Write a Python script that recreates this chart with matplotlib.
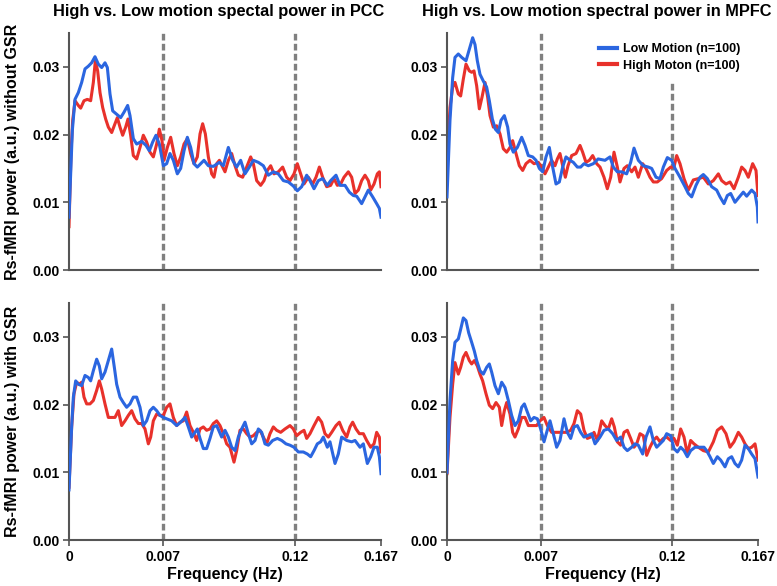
import numpy as np
import matplotlib
matplotlib.use("Agg")
import matplotlib.pyplot as plt
from matplotlib.lines import Line2D

plt.rcParams['font.family'] = ['Liberation Sans', 'DejaVu Sans']
plt.rcParams['font.weight'] = 'bold'

# x positions are in percent of the plotted frequency range (0 -> 0.167 Hz)
# ---- PCC without GSR ----
pcc_nogsr_low_x = [0, 1.07, 1.92, 2.99, 4.06, 5.13, 6.2, 7.26, 8.33, 9.4, 10.47, 11.54, 12.29, 13.14, 14.0,
                   15.28, 16.56, 17.63, 18.8, 19.55, 20.62, 21.69, 23.29, 24.68, 25.75, 26.82, 27.88, 28.95,
                   30.24, 31.3, 32.37, 33.44, 34.72, 35.79, 36.86, 37.93, 39.0, 40.06, 41.13, 42.2, 43.27,
                   44.66, 46.26, 48.2, 49.47, 51.07, 52.46, 53.74, 55.02, 56.41, 57.8, 59.08, 60.68, 62.29,
                   63.89, 65.49, 67.09, 68.7, 70.3, 71.9, 73.18, 74.57, 76.18, 77.24, 78.53, 79.91, 81.3,
                   82.8, 83.87, 85.58, 86.86, 88.46, 89.85, 91.13, 92.2, 93.8, 94.87, 95.94, 97.33, 98.61,
                   99.47, 100]
pcc_nogsr_low_y = [0.0078, 0.0206, 0.0252, 0.0262, 0.0277, 0.0297, 0.0301, 0.0306, 0.0315, 0.0304, 0.0299,
                   0.0306, 0.0299, 0.026, 0.0235, 0.023, 0.0225, 0.0233, 0.0243, 0.0228, 0.0194, 0.0186,
                   0.019, 0.0184, 0.0176, 0.0189, 0.0199, 0.0186, 0.0154, 0.0157, 0.0172, 0.0162, 0.0142,
                   0.015, 0.0176, 0.0196, 0.0181, 0.0157, 0.0152, 0.0157, 0.0162, 0.0154, 0.0153, 0.0159,
                   0.0154, 0.0181, 0.0162, 0.0152, 0.0162, 0.0142, 0.0152, 0.0162, 0.0159, 0.0154, 0.014,
                   0.0145, 0.0142, 0.0132, 0.013, 0.0124, 0.0117, 0.0123, 0.014, 0.0132, 0.012, 0.0132,
                   0.0135, 0.0125, 0.0132, 0.014, 0.0125, 0.0125, 0.0115, 0.011, 0.0109, 0.0098, 0.0108,
                   0.0118, 0.0108, 0.0098, 0.0091, 0.0078]
pcc_nogsr_high_x = [0, 0.64, 1.18, 1.92, 2.99, 3.74, 4.81, 5.88, 6.94, 7.8, 8.44, 9.19, 9.94, 10.79, 11.75,
                    12.61, 13.68, 14.74, 15.49, 16.35, 17.2, 18.16, 18.91, 19.76, 20.62, 21.69, 22.76, 23.82,
                    24.89, 25.96, 27.03, 28.1, 28.95, 29.81, 30.45, 31.52, 32.59, 33.65, 34.72, 35.79, 36.86,
                    37.93, 39.0, 40.06, 41.13, 41.99, 42.84, 43.7, 44.66, 45.73, 46.47, 47.33, 48.2, 49.25,
                    50.0, 51.07, 52.14, 53.21, 54.27, 55.66, 56.94, 58.23, 59.08, 60.15, 61.43, 62.5, 63.57,
                    64.64, 65.71, 67.1, 68.48, 69.76, 70.83, 72.12, 73.18, 74.25, 75.32, 76.71, 78.1, 79.17,
                    80.24, 81.3, 82.59, 83.87, 84.94, 86.0, 87.07, 88.14, 89.53, 90.6, 91.67, 92.74, 93.8,
                    94.87, 95.94, 96.69, 97.76, 98.82, 99.47, 100]
pcc_nogsr_high_y = [0.0064, 0.0172, 0.0221, 0.025, 0.0243, 0.0239, 0.025, 0.0252, 0.025, 0.0277, 0.0309,
                    0.0294, 0.0262, 0.024, 0.0223, 0.0211, 0.0203, 0.0216, 0.0225, 0.0211, 0.0199, 0.0211,
                    0.0223, 0.0199, 0.0169, 0.0164, 0.0181, 0.0199, 0.0189, 0.0174, 0.0167, 0.0186, 0.0208,
                    0.0191, 0.0162, 0.0181, 0.0196, 0.0172, 0.0154, 0.0167, 0.0186, 0.0194, 0.0172, 0.0157,
                    0.0167, 0.0201, 0.0216, 0.0201, 0.0167, 0.0142, 0.0137, 0.0157, 0.0162, 0.0152, 0.0145,
                    0.0162, 0.0172, 0.0154, 0.014, 0.0137, 0.0152, 0.0167, 0.0157, 0.0132, 0.0125, 0.0132,
                    0.0147, 0.0154, 0.0142, 0.0145, 0.0152, 0.0137, 0.0132, 0.0142, 0.0157, 0.0142, 0.0127,
                    0.0137, 0.0127, 0.0137, 0.0152, 0.0137, 0.0123, 0.0125, 0.0135, 0.0125, 0.0127, 0.0137,
                    0.0145, 0.0137, 0.0113, 0.0118, 0.0132, 0.014, 0.0132, 0.0118, 0.0127, 0.0142, 0.0145,
                    0.0123]

# ---- MPFC without GSR ----
mpfc_nogsr_low_x = [0, 0.96, 1.82, 2.57, 3.64, 4.72, 6.11, 7.18, 8.25, 9.0, 9.75, 10.61, 11.68, 12.75, 13.61,
                    14.58, 15.54, 16.51, 17.36, 18.44, 19.51, 20.26, 21.33, 22.62, 24.01, 25.08, 26.15, 27.55,
                    28.62, 29.69, 30.76, 31.83, 32.9, 33.98, 35.05, 36.12, 37.19, 38.26, 39.55, 40.62, 41.91,
                    42.98, 44.05, 45.44, 47.05, 48.6, 50.8, 52.41, 53.48, 54.77, 56.16, 57.77, 59.06, 60.13,
                    61.52, 63.13, 64.74, 65.81, 67.2, 68.49, 69.56, 70.85, 72.24, 73.31, 74.92, 76.53, 77.6,
                    78.67, 80.06, 81.35, 82.42, 83.71, 85.1, 86.71, 87.78, 89.07, 90.14, 91.21, 92.6, 94.0,
                    95.28, 96.36, 97.96, 99.04, 99.79, 100]
mpfc_nogsr_low_y = [0.0108, 0.0221, 0.0284, 0.0314, 0.0319, 0.0314, 0.0309, 0.0326, 0.0343, 0.0333, 0.0309,
                    0.0289, 0.0279, 0.027, 0.025, 0.0223, 0.0208, 0.0203, 0.0221, 0.0228, 0.0211, 0.0186,
                    0.0174, 0.0181, 0.0196, 0.0184, 0.0169, 0.0167, 0.0162, 0.015, 0.0145, 0.0167, 0.0181,
                    0.0152, 0.0127, 0.013, 0.0152, 0.0167, 0.0162, 0.0159, 0.0152, 0.0152, 0.0157, 0.0154,
                    0.0157, 0.0164, 0.0162, 0.0167, 0.0152, 0.0145, 0.0145, 0.0142, 0.0159, 0.018, 0.0162,
                    0.0154, 0.0152, 0.015, 0.0137, 0.0135, 0.0152, 0.0166, 0.0162, 0.015, 0.0137, 0.0123,
                    0.0113, 0.0108, 0.0125, 0.0137, 0.0141, 0.0135, 0.0123, 0.0118, 0.0108, 0.0098, 0.011,
                    0.0113, 0.01, 0.0108, 0.0115, 0.0109, 0.0118, 0.0113, 0.0093, 0.0071]
mpfc_nogsr_high_x = [0, 0.96, 1.82, 2.57, 3.64, 4.39, 5.25, 6.11, 7.18, 7.93, 8.68, 9.54, 10.4, 11.25, 12.22,
                     13.08, 13.83, 14.9, 15.97, 17.04, 18.11, 19.19, 20.26, 21.11, 22.19, 23.26, 24.33, 25.4,
                     26.69, 27.97, 29.37, 30.44, 31.51, 32.58, 33.65, 34.73, 35.48, 36.33, 37.19, 38.05, 38.91,
                     40.09, 41.48, 42.77, 43.62, 44.69, 45.77, 46.84, 48.12, 49.2, 50.48, 51.55, 52.63, 53.7,
                     54.77, 55.63, 56.91, 57.98, 59.38, 60.45, 61.52, 62.92, 63.99, 65.27, 66.35, 67.63, 69.02,
                     70.63, 71.92, 72.99, 73.85, 74.92, 76.21, 77.6, 79.21, 80.81, 82.42, 84.03, 85.64, 87.25,
                     88.32, 89.71, 90.99, 92.28, 93.68, 94.75, 95.82, 96.89, 98.28, 99.36, 100]
mpfc_nogsr_high_y = [0.0157, 0.024, 0.027, 0.0277, 0.026, 0.0257, 0.0282, 0.0304, 0.0294, 0.0292, 0.0294,
                     0.0272, 0.0238, 0.0255, 0.0277, 0.0255, 0.0228, 0.0211, 0.0213, 0.0201, 0.0179, 0.0174,
                     0.0181, 0.0191, 0.0172, 0.0154, 0.0147, 0.0157, 0.0162, 0.0157, 0.0159, 0.0152, 0.0142,
                     0.0152, 0.0162, 0.0154, 0.0164, 0.0172, 0.0154, 0.0137, 0.0154, 0.0169, 0.0172, 0.0184,
                     0.0174, 0.0159, 0.0162, 0.0169, 0.0157, 0.0152, 0.0137, 0.012, 0.0137, 0.0174, 0.0152,
                     0.013, 0.015, 0.0154, 0.0145, 0.0152, 0.0137, 0.0157, 0.015, 0.0137, 0.013, 0.013, 0.0135,
                     0.0147, 0.0152, 0.0152, 0.0169, 0.0157, 0.0135, 0.0118, 0.0133, 0.0135, 0.0137, 0.0127,
                     0.0132, 0.0142, 0.0132, 0.0127, 0.013, 0.012, 0.0137, 0.0152, 0.0147, 0.0137, 0.0157,
                     0.0147, 0.011]

# ---- PCC with GSR ----
pcc_gsr_low_x = [0, 0.85, 1.39, 2.14, 2.99, 4.06, 5.13, 6.2, 6.94, 7.8, 8.87, 9.72, 10.47, 11.54, 12.61,
                 13.68, 14.53, 15.28, 16.35, 17.41, 18.48, 19.55, 20.62, 21.69, 22.76, 23.82, 24.89, 25.96,
                 27.03, 28.1, 29.17, 30.24, 31.3, 32.91, 34.51, 35.79, 37.18, 38.25, 39.32, 40.38, 41.13,
                 41.99, 43.06, 44.12, 45.19, 46.26, 47.33, 48.93, 50.0, 51.07, 52.14, 53.21, 54.27, 55.34,
                 56.41, 57.48, 58.55, 59.62, 60.68, 61.75, 62.82, 63.89, 65.28, 66.77, 68.16, 69.55, 70.83,
                 72.12, 73.5, 75.11, 76.39, 77.46, 78.53, 79.59, 80.66, 81.52, 82.8, 83.65, 85.26, 86.32,
                 87.39, 89.0, 90.6, 91.67, 93.27, 94.34, 95.62, 96.69, 97.76, 98.82, 99.47, 100]
pcc_gsr_low_y = [0.0074, 0.0167, 0.0211, 0.0235, 0.023, 0.0228, 0.0243, 0.024, 0.0235, 0.025, 0.0267,
                 0.0257, 0.0238, 0.0248, 0.0265, 0.0282, 0.0255, 0.023, 0.0211, 0.0203, 0.0196, 0.0201,
                 0.0211, 0.0211, 0.0196, 0.0169, 0.0176, 0.0191, 0.0196, 0.0191, 0.0184, 0.0181, 0.0179,
                 0.0176, 0.0169, 0.0174, 0.0181, 0.0167, 0.0152, 0.0159, 0.0164, 0.015, 0.0135, 0.0135,
                 0.015, 0.0167, 0.0169, 0.0152, 0.0162, 0.0152, 0.0137, 0.0132, 0.0152, 0.0164, 0.0174,
                 0.0157, 0.0142, 0.0147, 0.0164, 0.0159, 0.0142, 0.014, 0.0147, 0.015, 0.0147, 0.0142,
                 0.014, 0.0137, 0.013, 0.013, 0.0127, 0.0123, 0.0132, 0.0142, 0.0145, 0.0152, 0.0137,
                 0.0145, 0.0113, 0.0127, 0.0152, 0.0147, 0.0145, 0.0147, 0.0137, 0.0142, 0.0113, 0.0123,
                 0.0137, 0.0137, 0.0123, 0.0098]
pcc_gsr_high_x = [0, 0.85, 1.6, 2.46, 3.31, 4.06, 4.81, 5.66, 6.73, 7.8, 8.87, 9.72, 10.47, 11.54, 12.61,
                  13.68, 14.74, 15.81, 16.88, 17.95, 19.02, 20.09, 21.15, 22.22, 23.29, 24.36, 25.43, 26.18,
                  27.03, 28.1, 29.17, 30.24, 31.3, 32.37, 33.44, 34.51, 35.58, 36.65, 37.71, 38.78, 39.85,
                  40.92, 41.99, 43.06, 44.12, 45.19, 46.26, 47.33, 48.4, 49.47, 50.53, 51.6, 52.88, 53.74,
                  54.81, 55.88, 56.94, 58.01, 59.08, 60.15, 61.22, 62.29, 63.35, 64.42, 65.49, 66.56, 67.84,
                  69.23, 70.83, 71.9, 72.97, 74.25, 75.32, 76.18, 77.24, 78.53, 79.91, 80.98, 82.05, 83.12,
                  84.19, 85.58, 86.65, 87.71, 89.0, 90.06, 90.92, 91.99, 93.06, 94.34, 95.41, 96.69, 97.76,
                  98.61, 99.47, 100]
pcc_gsr_high_y = [0.0078, 0.0167, 0.0216, 0.0233, 0.023, 0.0233, 0.0211, 0.0201, 0.0201, 0.0206, 0.0221,
                  0.0235, 0.0223, 0.0201, 0.0181, 0.0181, 0.0181, 0.0191, 0.0169, 0.0176, 0.0184, 0.0191,
                  0.0179, 0.0172, 0.0172, 0.0164, 0.0142, 0.0152, 0.0176, 0.0186, 0.0184, 0.0184, 0.0196,
                  0.0201, 0.0181, 0.0169, 0.0174, 0.0176, 0.0189, 0.0169, 0.0159, 0.0147, 0.0164, 0.0167,
                  0.0162, 0.0164, 0.0172, 0.0176, 0.0169, 0.0157, 0.0142, 0.0137, 0.0115, 0.0132, 0.0162,
                  0.0164, 0.0157, 0.0152, 0.0154, 0.0159, 0.0162, 0.0152, 0.0142, 0.0157, 0.0167, 0.0162,
                  0.0159, 0.0164, 0.0169, 0.0164, 0.0154, 0.0159, 0.0162, 0.015, 0.0157, 0.0169, 0.0181,
                  0.0174, 0.0157, 0.0152, 0.0159, 0.0169, 0.0174, 0.0162, 0.0152, 0.0167, 0.0174, 0.0164,
                  0.0157, 0.0157, 0.0147, 0.0137, 0.0142, 0.0159, 0.0152, 0.013]

# ---- MPFC with GSR ----
mpfc_gsr_low_x = [0, 0.96, 1.82, 2.57, 3.64, 4.39, 5.25, 6.11, 6.97, 7.93, 8.79, 9.54, 10.61, 11.68, 12.75,
                  13.61, 14.36, 15.43, 16.51, 17.58, 18.65, 19.72, 20.79, 21.86, 22.94, 24.01, 24.87, 25.83,
                  26.9, 27.97, 29.05, 30.12, 31.19, 32.05, 33.12, 34.19, 35.26, 36.33, 37.62, 38.69, 39.76,
                  40.84, 41.91, 42.98, 44.05, 45.12, 46.52, 47.59, 49.2, 50.48, 51.87, 53.27, 54.55, 55.84,
                  56.91, 57.98, 59.38, 60.45, 61.52, 62.92, 63.99, 65.27, 66.35, 67.42, 68.49, 69.56, 70.63,
                  71.92, 72.99, 74.06, 75.13, 76.21, 77.28, 78.35, 79.74, 81.35, 82.64, 83.49, 84.57, 85.64,
                  86.92, 88.0, 89.39, 90.46, 91.53, 92.6, 93.68, 94.75, 95.82, 96.89, 97.96, 99.04, 100]
mpfc_gsr_low_y = [0.01, 0.0206, 0.0265, 0.0292, 0.0297, 0.0311, 0.0328, 0.0324, 0.0306, 0.0292, 0.0279,
                  0.0265, 0.025, 0.0245, 0.0255, 0.026, 0.0248, 0.0228, 0.0216, 0.0233, 0.0225, 0.0206,
                  0.0184, 0.0169, 0.0176, 0.0196, 0.0201, 0.0189, 0.0176, 0.0181, 0.0179, 0.0164, 0.0145,
                  0.0159, 0.0176, 0.0157, 0.0137, 0.0147, 0.0179, 0.0159, 0.015, 0.0167, 0.0169, 0.0159,
                  0.0152, 0.0154, 0.0157, 0.0142, 0.0152, 0.0162, 0.0164, 0.0157, 0.0147, 0.0152, 0.0137,
                  0.0132, 0.0137, 0.0142, 0.014, 0.0127, 0.0152, 0.0167, 0.0147, 0.0137, 0.0142, 0.0147,
                  0.0157, 0.0154, 0.0135, 0.013, 0.0137, 0.0132, 0.0123, 0.0132, 0.0137, 0.0137, 0.0137,
                  0.0132, 0.0123, 0.0113, 0.0123, 0.0118, 0.0108, 0.012, 0.0123, 0.0113, 0.0108, 0.0118,
                  0.014, 0.0135, 0.0127, 0.012, 0.0093]
mpfc_gsr_high_x = [0, 0.96, 1.82, 2.57, 3.64, 4.39, 5.25, 6.11, 7.18, 7.93, 8.79, 9.75, 10.61, 11.47, 12.54,
                   13.61, 14.68, 15.76, 16.83, 17.58, 18.44, 19.19, 20.26, 21.11, 21.86, 22.94, 24.01, 25.08,
                   26.15, 27.55, 28.83, 29.9, 31.19, 32.26, 33.65, 35.26, 36.87, 38.48, 39.76, 40.84, 41.91,
                   42.98, 44.05, 45.12, 46.2, 47.27, 48.34, 49.73, 50.8, 51.87, 52.95, 53.8, 54.77, 55.84,
                   56.91, 57.98, 59.06, 60.13, 60.99, 62.06, 63.13, 64.2, 65.27, 66.35, 67.42, 68.49, 69.56,
                   70.63, 71.92, 72.99, 74.06, 75.13, 76.21, 77.28, 78.35, 79.42, 80.81, 82.42, 84.03, 85.64,
                   86.92, 88.32, 89.71, 91.0, 92.28, 93.68, 94.75, 95.82, 96.89, 97.96, 99.04, 100]
mpfc_gsr_high_y = [0.0098, 0.0181, 0.023, 0.0262, 0.0245, 0.0255, 0.027, 0.0277, 0.0265, 0.026, 0.0265,
                   0.0257, 0.0245, 0.0235, 0.0216, 0.0199, 0.0194, 0.0203, 0.0196, 0.0169, 0.0191, 0.0203,
                   0.0186, 0.0159, 0.0152, 0.0164, 0.0181, 0.0181, 0.0169, 0.0169, 0.0169, 0.0176, 0.0181,
                   0.0169, 0.0159, 0.0159, 0.0159, 0.0159, 0.0162, 0.0172, 0.0191, 0.0186, 0.0162, 0.015,
                   0.0152, 0.0159, 0.0147, 0.0176, 0.0169, 0.0164, 0.0179, 0.0167, 0.0145, 0.014, 0.0159,
                   0.0162, 0.015, 0.0137, 0.0142, 0.0157, 0.0154, 0.0125, 0.0137, 0.0147, 0.0152, 0.0145,
                   0.015, 0.0152, 0.0147, 0.015, 0.014, 0.0164, 0.0152, 0.0127, 0.0147, 0.0142, 0.0137,
                   0.0132, 0.013, 0.0145, 0.0162, 0.0167, 0.0157, 0.0137, 0.0145, 0.0159, 0.0152, 0.0142,
                   0.0135, 0.0137, 0.0142, 0.0118]

titles = ["High vs. Low motion spectal power in PCC", "High vs. Low motion spectral power in MPFC"]
row_labels = ["Rs-fMRI power (a.u.) without GSR", "Rs-fMRI power (a.u.) with GSR"]
freq_ticks = [0, 30.2, 72.3, 100]
freq_labels = ["0", "0.007", "0.12", "0.167"]
band_lines = [30.2, 72.3]
y_ticks = [0.0, 0.01, 0.02, 0.03]
legend_labels = ["Low Motion (n=100)", "High Moton (n=100)"]

blue = '#2B66E0'
red = '#E8312B'
axis_col = '#555555'

panels = [
    (pcc_nogsr_low_x, pcc_nogsr_low_y, pcc_nogsr_high_x, pcc_nogsr_high_y),
    (mpfc_nogsr_low_x, mpfc_nogsr_low_y, mpfc_nogsr_high_x, mpfc_nogsr_high_y),
    (pcc_gsr_low_x, pcc_gsr_low_y, pcc_gsr_high_x, pcc_gsr_high_y),
    (mpfc_gsr_low_x, mpfc_gsr_low_y, mpfc_gsr_high_x, mpfc_gsr_high_y),
]

W, H = 777, 586
fig = plt.figure(figsize=(W / 100, H / 100), dpi=100)
lefts = [69, 447]
widths = [312, 311]
bottoms = [270, 540]
ph = 237

for i, (lx, ly, hx, hy) in enumerate(panels):
    row, col = divmod(i, 2)
    ax = fig.add_axes([lefts[col] / W, 1 - bottoms[row] / H, widths[col] / W, ph / H])
    for b in band_lines:
        ax.axvline(b, color='#808080', lw=2.4, linestyle=(0, (2, 1)), zorder=1)
    ax.plot(hx, hy, color=red, lw=2.2, zorder=2, solid_joinstyle='round')
    ax.plot(lx, ly, color=blue, lw=2.2, zorder=3, solid_joinstyle='round')
    ax.set_xlim(0, 100)
    ax.set_ylim(0, 0.035)
    for s in ['top', 'right']:
        ax.spines[s].set_visible(False)
    for s in ['left', 'bottom']:
        ax.spines[s].set_color(axis_col)
        ax.spines[s].set_linewidth(1.5)
    ax.set_yticks(y_ticks)
    ax.set_yticklabels(["%.2f" % v for v in y_ticks], fontsize=10, fontweight='bold')
    ax.tick_params(axis='y', length=4, width=1.2, color=axis_col, pad=3)
    ax.set_xticks(freq_ticks)
    if row == 1:
        ax.set_xticklabels(freq_labels, fontsize=10, fontweight='bold')
        ax.tick_params(axis='x', length=4, width=1.2, color=axis_col, pad=3)
        ax.set_xlabel("Frequency (Hz)", fontsize=11.5, fontweight='bold', labelpad=2)
    else:
        ax.tick_params(axis='x', length=0, labelbottom=False)
        ax.set_title(titles[col], fontsize=11.8, fontweight='bold', pad=12, x=0.48)
    if col == 0:
        ax.set_ylabel(row_labels[row], fontsize=11.5, fontweight='bold', labelpad=9)
    if i == 1:
        handles = [Line2D([], [], color=blue, lw=3), Line2D([], [], color=red, lw=3)]
        leg = ax.legend(handles, legend_labels, loc='upper right', frameon=True, fancybox=False,
                        handlelength=1.4, handletextpad=0.5, borderpad=0.9, labelspacing=0.35,
                        prop={'weight': 'bold', 'size': 9}, bbox_to_anchor=(1.0, 1.03))
        leg.get_frame().set_edgecolor('none')
        leg.get_frame().set_facecolor('white')
        leg.get_frame().set_alpha(1)
        leg.set_zorder(5)

fig.savefig("out.png", dpi=100)
